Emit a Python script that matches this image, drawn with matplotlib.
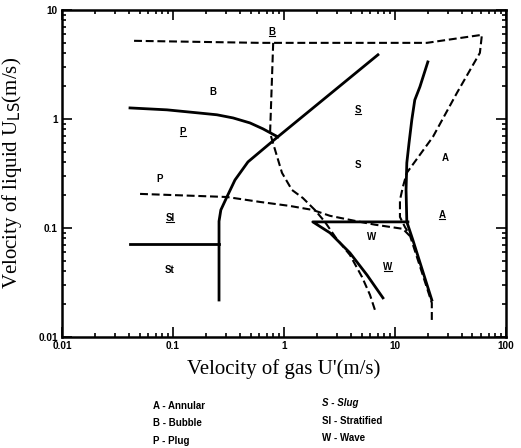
import numpy as np
import matplotlib
matplotlib.use("Agg")
import matplotlib.pyplot as plt
from matplotlib.lines import Line2D

# ---- solid boundaries
bp_x = [0.041, 0.0883, 0.175, 0.249, 0.348, 0.494, 0.647, 0.88]
bp_y = [1.26, 1.21, 1.13, 1.09, 1.02, 0.918, 0.81, 0.684]

diag_x = [0.26, 0.26, 0.27, 0.306, 0.362, 0.474, 0.88, 7.03]
diag_y = [0.0218, 0.115, 0.146, 0.192, 0.275, 0.403, 0.684, 3.87]

st_x = [0.041, 0.26]
st_y = [0.0713, 0.0713]

ann_x = [19.8, 16.8, 15.1, 14.2, 13.4, 12.8, 12.6, 12.8, 14.5, 21.5]
ann_y = [3.33, 1.97, 1.49, 0.98, 0.60, 0.395, 0.223, 0.1135, 0.0776, 0.0218]

w_x = [13.1, 1.82, 2.6, 3.93, 5.6, 7.8]
w_y = [0.1135, 0.1135, 0.090, 0.059, 0.037, 0.0228]

# ---- dashed boundaries
top_x = [0.0446, 0.608, 4.84, 19.4, 29.4, 60.8, 58.3, 36.2, 22.0, 12.8,
         11.8, 11.1, 11.1, 12.3, 13.6, 21.5, 21.5]
top_y = [5.2, 4.98, 4.98, 4.98, 5.3, 5.9, 4.03, 1.73, 0.684, 0.32,
         0.238, 0.18, 0.126, 0.102, 0.0863, 0.0205, 0.0143]

bd_x = [0.80, 0.75, 0.796, 0.96, 1.18, 1.48, 1.90, 2.34, 2.94, 3.93, 5.05, 5.96, 6.6]
bd_y = [4.98, 0.74, 0.603, 0.32, 0.223, 0.188, 0.146, 0.1135, 0.081, 0.0565,
        0.0355, 0.0243, 0.0177]

hd_x = [0.0505, 0.306, 0.608, 1.13, 1.82, 2.6, 4.36, 6.6, 11.8, 13.6]
hd_y = [0.205, 0.192, 0.173, 0.159, 0.146, 0.129, 0.116, 0.107, 0.098, 0.0845]

# ---- region labels
lab_txt = ["B", "B", "P", "P", "Sl", "St", "S", "S", "A", "A", "W", "W"]
lab_x = [0.78, 0.229, 0.123, 0.076, 0.094, 0.094, 4.64, 4.64, 28.2, 26.5, 6.2, 8.65]
lab_y = [6.3, 1.77, 0.76, 0.28, 0.124, 0.041, 1.21, 0.378, 0.44, 0.131, 0.083, 0.044]
lab_ul = [True, False, True, False, True, False, True, False, False, True, False, True]

legend_left = ["A - Annular", "B - Bubble", "P - Plug"]
legend_right = ["S - Slug", "Sl - Stratified", "W - Wave"]

fig = plt.figure(figsize=(5.21, 4.48), dpi=100)
ax = fig.add_axes([0.119, 0.248, 0.852, 0.730])

ax.plot(bp_x, bp_y, color="black", lw=2.0)
ax.plot(diag_x, diag_y, color="black", lw=2.0)
ax.plot(st_x, st_y, color="black", lw=2.0)
ax.plot(ann_x, ann_y, color="black", lw=2.0)
ax.plot(w_x, w_y, color="black", lw=2.0)

for xs, ys in [(top_x, top_y), (bd_x, bd_y), (hd_x, hd_y)]:
    ax.plot(xs, ys, color="black", lw=1.5, dashes=(3.8, 1.8))

ax.set_xscale("log")
ax.set_yscale("log")
ax.set_xlim(0.01, 100)
ax.set_ylim(0.01, 10)
ax.set_xticks([0.01, 0.1, 1, 10, 100])
ax.set_xticklabels(["0.01", "0.1", "1", "10", "100"])
ax.set_yticks([0.01, 0.1, 1, 10])
ax.set_yticklabels(["0.01", "0.1", "1", "10"])
ax.tick_params(which="both", direction="in", top=True, right=True, width=1.2)
ax.tick_params(which="major", length=7, labelsize=7.2, pad=3)
ax.tick_params(which="minor", length=3)
for lb in ax.get_xticklabels() + ax.get_yticklabels():
    lb.set_fontweight("bold")
    lb.set_family("Liberation Sans")
for sp in ax.spines.values():
    sp.set_linewidth(1.8)

plt.rcParams["mathtext.fontset"] = "stix"
ax.set_xlabel("Velocity of gas U'(m/s)", family="Liberation Serif", fontsize=15, labelpad=6)
ax.set_ylabel(r"Velocity of liquid U$_{\rm LS}$(m/s)", family="Liberation Serif",
              fontsize=15, labelpad=10)

texts = []
for t, x, y in zip(lab_txt, lab_x, lab_y):
    texts.append(ax.text(x, y, t, ha="center", va="center", fontsize=7,
                         fontweight="bold", family="Liberation Sans"))

for i, t in enumerate(legend_left):
    fig.text(0.294, 0.094 - i * 0.039, t, fontsize=7, fontweight="bold",
             family="Liberation Sans", va="center")
for i, t in enumerate(legend_right):
    fig.text(0.618, 0.100 - i * 0.039, t, fontsize=7, fontweight="bold",
             family="Liberation Sans", va="center",
             style="italic" if i == 0 else "normal")

# underline the marked labels
fig.canvas.draw()
inv = fig.transFigure.inverted()
for t, ul in zip(texts, lab_ul):
    if not ul:
        continue
    bb = t.get_window_extent()
    (x0, y0), (x1, _) = inv.transform([(bb.x0 + 0.5, bb.y0 + 1), (bb.x1 - 0.5, bb.y0 + 1)])
    fig.add_artist(Line2D([x0, x1], [y0, y0], color="black", lw=0.8,
                          transform=fig.transFigure))

fig.savefig("out.png", dpi=100)
